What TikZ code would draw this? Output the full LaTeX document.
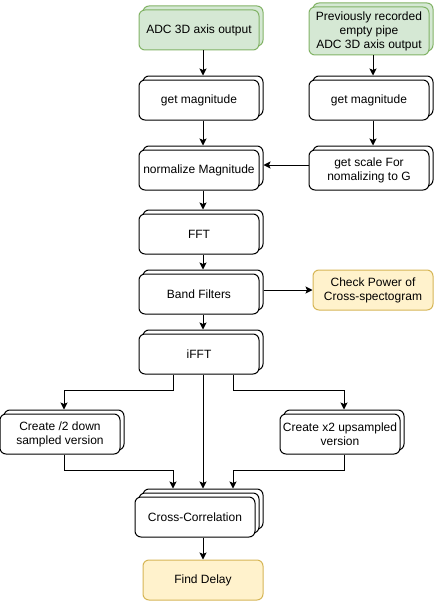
\documentclass[tikz,border=0pt]{standalone}
\usepackage{fontspec}
\setmainfont{Liberation Sans}
\usetikzlibrary{shadows,arrows.meta}
\definecolor{greenfill}{HTML}{D5E8D4}
\definecolor{greenline}{HTML}{82B366}
\definecolor{yellowfill}{HTML}{FFF2CC}
\definecolor{yellowline}{HTML}{D6B656}

\begin{document}
\begin{tikzpicture}
  [x=1pt,y=-1pt,
   every node/.style={rounded corners=6pt,draw,line width=1pt,fill=white,
     minimum width=120pt,minimum height=40pt,inner sep=1pt,align=center,
     font=\fontsize{12}{14}\selectfont},
   stack/.style={copy shadow={shadow xshift=4pt,shadow yshift=4pt,fill=white,draw=black}},
   stackthree/.style={copy shadow={shadow xshift=8pt,shadow yshift=8pt,fill=white,draw=black},
     copy shadow={shadow xshift=4pt,shadow yshift=4pt,fill=white,draw=black}},
   source/.style={draw=greenline,fill=greenfill,
     copy shadow={shadow xshift=4pt,shadow yshift=4pt,fill=greenfill,draw=greenline}},
   result/.style={draw=yellowline,fill=yellowfill},
   arr/.style={line width=1pt,-{Stealth[length=7pt,width=7pt,inset=1.5pt]}}]
  \useasboundingbox (0,0) rectangle (435,602);

  % left column
  \node[source] (adc) at (199,30) {ADC 3D axis output};
  \node[stack] (mag1) at (199,100) {get magnitude};
  \node[stack] (norm) at (199,170) {normalize Magnitude};
  \node[stack] (fft) at (199,234) {FFT};
  \node[stack] (band) at (199,294) {Band Filters};
  \node[stack] (ifft) at (199,354) {iFFT};

  % right column
  \node[source,minimum height=48pt] (prev) at (369,31) {Previously recorded\\empty pipe\\ADC 3D axis output};
  \node[stack] (mag2) at (369,100) {get magnitude};
  \node[stack] (scale) at (369,170) {get scale For\\nomalizing to G};
  \node[result] (check) at (373,290) {Check Power of\\Cross-spectogram};

  % resampling and correlation
  \node[stack] (down) at (60,434) {Create /2 down\\sampled version};
  \node[stack] (up) at (340,434) {Create x2 upsampled\\version};
  \node[stackthree] (xcorr) at (195,517) {Cross-Correlation};
  \node[result] (delay) at (203,580) {Find Delay};

  \foreach \from/\to in {adc/mag1,mag1/norm,norm/fft,fft/band,band/ifft,prev/mag2,mag2/scale}
   \draw[arr] ([xshift=4pt]\from.south) -- ([xshift=4pt,yshift=4pt]\to.north);

  \draw[arr] ([yshift=5pt]scale.west) -- ([xshift=4pt,yshift=5pt]norm.east);
  \draw[arr] ([xshift=4pt,yshift=4pt]band.east) -- (check.west);

  \draw[arr] ([xshift=-26pt]ifft.south) -- ++(0,16) -| ([xshift=4pt,yshift=4pt]down.north);
  \draw[arr] ([xshift=34pt]ifft.south) -- ++(0,16) -| ([xshift=4pt,yshift=4pt]up.north);
  \draw[arr] ([xshift=4pt]ifft.south) -- ([xshift=8pt,yshift=8pt]xcorr.north);
  \draw[arr] ([xshift=4pt]down.south) -- ++(0,16) -| ([xshift=-22pt,yshift=8pt]xcorr.north);
  \draw[arr] ([xshift=4pt]up.south) -- ++(0,16) -| ([xshift=38pt,yshift=8pt]xcorr.north);
  \draw[arr] ([xshift=8pt]xcorr.south) -- (delay.north);

\end{tikzpicture}
\end{document}
